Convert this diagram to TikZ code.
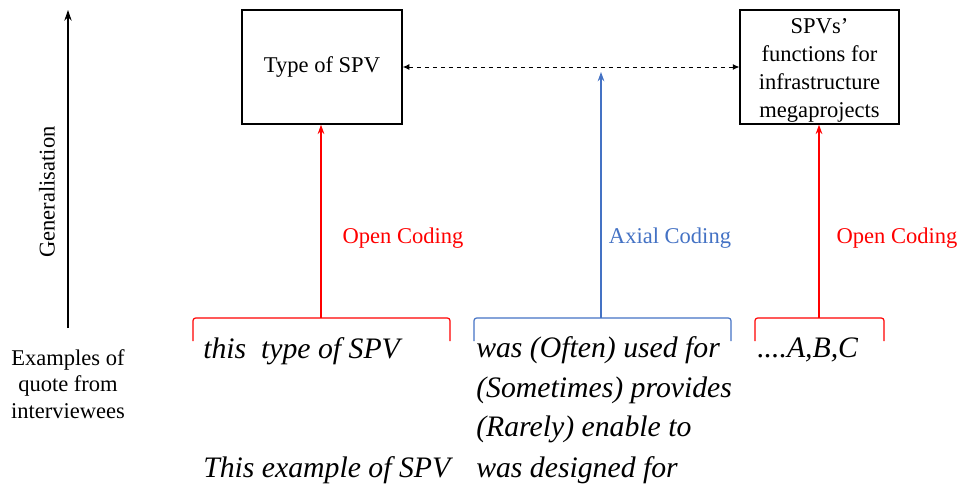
\documentclass[tikz,border=0pt]{standalone}
\usepackage{fontspec}
\setmainfont{Liberation Serif}
\usetikzlibrary{arrows.meta,positioning}

\definecolor{axialblue}{RGB}{68,114,196}
\definecolor{openred}{RGB}{255,0,0}

\tikzset{
    box/.style={draw, line width=1.1pt, align=center, inner sep=0pt,
        font=\fontsize{16.9}{21}\selectfont},
    coding/.style={line width=0.9pt, -{Stealth[length=7pt,width=5pt]}},
    bracket/.style={line width=0.9pt, rounded corners=2pt},
    codelabel/.style={font=\fontsize{16.9}{20}\selectfont},
    quote/.style={anchor=base west, inner sep=0pt,
        font=\fontsize{22.3}{26}\selectfont\itshape}
}

\begin{document}
\begin{tikzpicture}[x=0.75pt,y=-0.75pt]
            \useasboundingbox (0,0) rectangle (960,486);

            % axis of generalisation
            \coordinate (axisbot) at (68,328);
            \coordinate (axistop) at (68,10);
            \draw[line width=0.9pt,-{Stealth[length=8pt,width=5.5pt]}] (axisbot) -- (axistop);
            \node[rotate=90, codelabel] (general) at (47,192) {Generalisation};
            \node[codelabel, align=center] (examples) at (68,384)
                {Examples of\\quote from\\interviewees};

            % concepts
            \node[box, minimum width=120pt, minimum height=85.5pt] (spvtype) at (322,67) {Type of SPV};
            \node[box, minimum width=119pt, minimum height=85.5pt] (spvfunc) at (819.5,67) {};
            \node[align=center, inner sep=0pt, font=\fontsize{16.9}{21}\selectfont] (functext)
                at ([yshift=-2.5pt]spvfunc.center) {SPVs’\\functions for\\infrastructure\\megaprojects};
            \draw[dashed, line width=0.7pt, {Latex[length=5pt,width=4.5pt]}-{Latex[length=5pt,width=4.5pt]}]
                (spvtype) -- (spvfunc);

            % brackets over the quotes
            \draw[bracket, openred] (193,341) -- (193,318) -- (450,318) -- (450,341);
            \coordinate (q1) at (321,318);
            \draw[bracket, axialblue] (474,341) -- (474,318) -- (731,318) -- (731,341);
            \coordinate (q2) at (601,318);
            \draw[bracket, openred] (755,341) -- (755,318) -- (884,318) -- (884,341);
            \coordinate (q3) at (819,318);

            % coding arrows
            \coordinate (axialtip) at (601,72);
            \draw[coding, openred] (q1) -- (q1 |- spvtype.south);
            \draw[coding, axialblue] (q2) -- (axialtip);
            \draw[coding, openred] (q3) -- (q3 |- spvfunc.south);
            \node[codelabel, text=openred] (open1) at (403,238) {Open Coding};
            \node[codelabel, text=axialblue] (axial) at (670,238) {Axial Coding};
            \node[codelabel, text=openred] (open2) at (897,238) {Open Coding};

            % quotes
            \node[quote] (qa) at (203,358) {this\ \ type of SPV};
            \node[quote] (qb) at (203,477) {This example of SPV};
            \node[quote] (qc) at (476,357) {was (Often) used for};
            \node[quote] (qd) at (476,397) {(Sometimes) provides};
            \node[quote] (qe) at (476,436) {(Rarely) enable to};
            \node[quote] (qf) at (476,477) {was designed for};
            \node[quote] (qg) at (757,357) {....A,B,C};
        \end{tikzpicture}
\end{document}
